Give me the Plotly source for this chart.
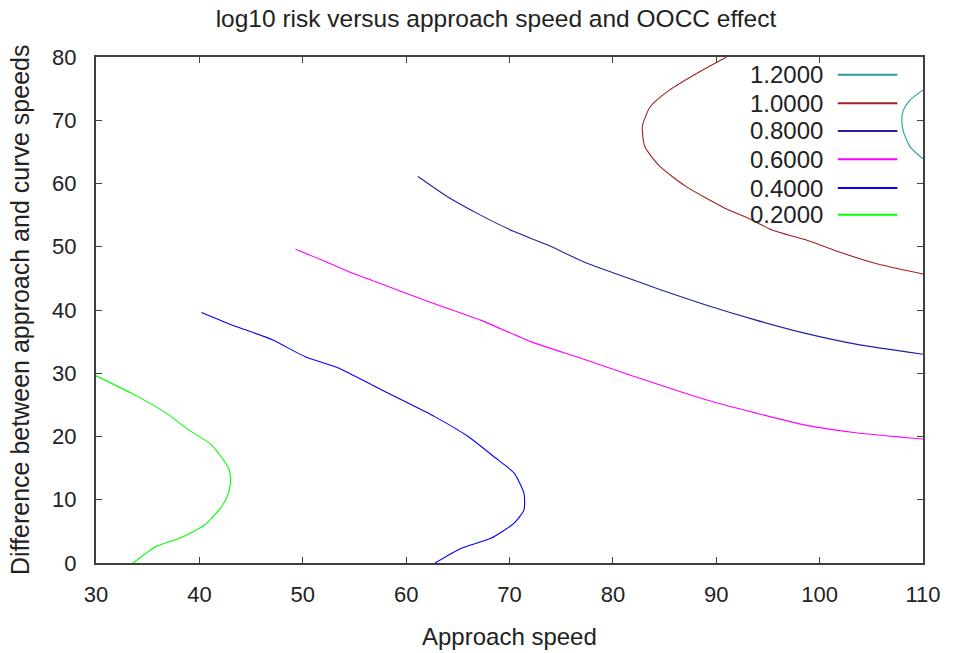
import plotly.graph_objects as go

# contour levels and colours
levels = ["1.2000", "1.0000", "0.8000", "0.6000", "0.4000", "0.2000"]
colors = ["#22a0a0", "#a02020", "#2020a0", "#ff00ff", "#0000ff", "#00ff00"]

# contour 0.2
x_02 = [30.0, 33.6, 36.8, 39.0, 41.0, 42.1, 42.9, 43.0, 42.7, 41.9, 40.5, 38.1, 35.8, 33.6]
y_02 = [29.6, 26.7, 23.7, 21.0, 18.9, 16.8, 14.7, 12.6, 10.5, 8.4, 6.0, 3.9, 2.6, 0.0]

# contour 0.4
x_04 = [40.2, 43.2, 47.05, 50.25, 53.5, 57.0, 59.55, 62.8, 66.0, 68.5, 70.45, 71.4, 71.4, 70.45, 68.2, 65.3, 62.8]
y_04 = [39.6, 37.6, 35.3, 32.6, 30.8, 27.9, 25.8, 23.1, 20.0, 16.8, 14.2, 11.0, 8.4, 6.3, 3.9, 2.3, 0.0]

# contour 0.6
x_06 = [49.3, 51.85, 54.4, 57.0, 59.4, 62.2, 67.2, 72.05, 76.85, 81.7, 85.0, 89.0, 93.85, 98.65, 103.5, 110.0]
y_06 = [49.6, 47.9, 46.1, 44.5, 43.0, 41.3, 38.4, 35.0, 32.4, 29.7, 27.9, 25.8, 23.7, 21.8, 20.6, 19.6]

# contour 0.8
x_08 = [61.15, 64.0, 67.2, 70.45, 73.65, 77.2, 80.7, 84.6, 89.0, 93.85, 98.65, 103.5, 110.0]
y_08 = [61.1, 57.9, 55.0, 52.4, 50.3, 47.6, 45.5, 43.2, 40.8, 38.4, 36.3, 34.6, 33.0]

# contour 1.0
x_10 = [91.0, 88.1, 85.5, 83.6, 82.85, 83.1, 84.55, 87.1, 90.6, 93.5, 95.45, 98.65, 102.2, 106.0, 110.0]
y_10 = [80.0, 77.4, 74.8, 72.1, 69.0, 65.8, 62.7, 59.5, 56.3, 54.2, 52.6, 51.1, 49.0, 47.1, 45.7]

# contour 1.2
x_12 = [110.0, 108.75, 108.1, 107.95, 108.1, 108.75, 110.0]
y_12 = [74.8, 73.2, 71.6, 70.0, 68.2, 65.8, 63.9]

xticks = [30, 40, 50, 60, 70, 80, 90, 100, 110]
yticks = [0, 10, 20, 30, 40, 50, 60, 70, 80]

series = [(x_12, y_12), (x_10, y_10), (x_08, y_08), (x_06, y_06), (x_04, y_04), (x_02, y_02)]

FONT = "Liberation Sans, Arial, sans-serif"
AXC = "#404040"
TXT = "#222222"

fig = go.Figure()
for (xs, ys), name, col in zip(series, levels, colors):
    fig.add_trace(go.Scatter(x=xs, y=ys, mode="lines", name=name,
                             line=dict(color=col, width=1.1, shape="spline", smoothing=0.6),
                             showlegend=False))

# manual legend (text on the left, sample line on the right)
leg_y = [0.965, 0.9085, 0.854, 0.798, 0.741, 0.688]
for name, col, yy in zip(levels, colors, leg_y):
    fig.add_annotation(xref="paper", yref="paper", x=0.881, y=yy, text=name,
                       showarrow=False, xanchor="right", yanchor="middle",
                       font=dict(family=FONT, size=24, color=TXT))
    fig.add_shape(type="line", xref="paper", yref="paper", x0=0.897, x1=0.969,
                  y0=yy, y1=yy, line=dict(color=col, width=2))

# axis titles
fig.add_annotation(xref="paper", yref="paper", x=0.5, y=0, yshift=-73,
                   text="Approach speed", showarrow=False, xanchor="center", yanchor="middle",
                   font=dict(family=FONT, size=24, color=TXT))
fig.add_annotation(xref="paper", yref="paper", x=0, y=0.5, xshift=-76,
                   text="Difference between approach and curve speeds", textangle=-90,
                   showarrow=False, xanchor="center", yanchor="middle",
                   font=dict(family=FONT, size=25, color=TXT))

W, H = 953, 653
fig.update_layout(
    width=W, height=H,
    margin=dict(l=96, r=27, t=57, b=90),
    paper_bgcolor="white", plot_bgcolor="white",
    title=dict(text="log10 risk versus approach speed and OOCC effect", xref="container",
               x=496 / W, xanchor="center", y=1 - 18 / H, yanchor="middle",
               font=dict(family=FONT, size=24.5, color=TXT)),
    font=dict(family=FONT, color=TXT),
)
fig.update_xaxes(range=[30, 110], tickvals=xticks, ticktext=[str(v) for v in xticks],
                 showgrid=False, zeroline=False, showline=True, linecolor=AXC, linewidth=2,
                 mirror="ticks", ticks="inside", ticklen=6, tickcolor=AXC, tickwidth=1,
                 tickfont=dict(family=FONT, size=22, color=TXT), ticklabelstandoff=11)
fig.update_yaxes(range=[0, 80], tickvals=yticks, ticktext=[str(v) for v in yticks],
                 showgrid=False, zeroline=False, showline=True, linecolor=AXC, linewidth=2,
                 mirror="ticks", ticks="inside", ticklen=6, tickcolor=AXC, tickwidth=1,
                 tickfont=dict(family=FONT, size=22, color=TXT), ticklabelstandoff=13)

# remove the default 8px page margin so the figure fills the window exactly
fig.write_html("out.html", config={"displayModeBar": False},
               post_script="document.body.style.margin='0px';")
